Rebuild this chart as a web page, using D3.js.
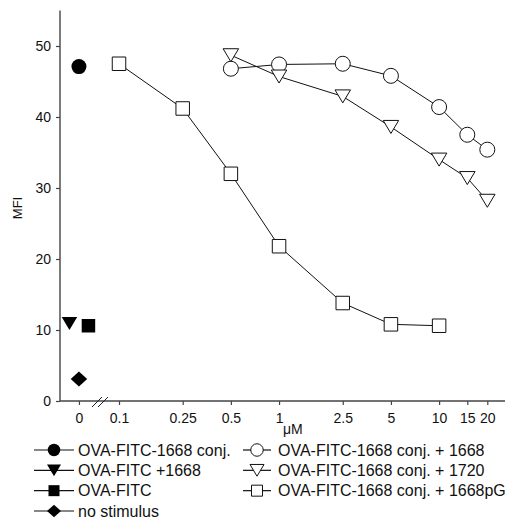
<html>
<head>
<meta charset="utf-8">
<script src="https://d3js.org/d3.v7.min.js"></script>
<style>
  body { margin: 0; background: #fff; }
  text { font-family: "Liberation Sans", Arial, Helvetica, sans-serif; fill: #111; }
</style>
</head>
<body>
<svg id="chart" width="511" height="520"></svg>
<script>

// Values

// log-axis doses (uM) and their tick labels; "0" sits left of the axis break
var ZERO_AT = 0.0562;
var tickDoses = [ZERO_AT, 0.1, 0.25, 0.5, 1, 2.5, 5, 10, 15, 20];
var tickLabels = ["0", "0.1", "0.25", "0.5", "1", "2.5", "5", "10", "15", "20"];
var yTicks = [0, 10, 20, 30, 40, 50];

// dose-response curves
var dosesConj1668 = [0.5, 1, 2.5, 5, 10, 15, 20];
var mfiConj1668 = [46.8, 47.4, 47.5, 45.8, 41.4, 37.5, 35.4];

var dosesConj1720 = [0.5, 1, 2.5, 5, 10, 15, 20];
var mfiConj1720 = [48.7, 45.7, 42.9, 38.6, 34.0, 31.4, 28.2];

var dosesConj1668pG = [0.1, 0.25, 0.5, 1, 2.5, 5, 10];
var mfiConj1668pG = [47.5, 41.2, 32.0, 21.8, 13.8, 10.8, 10.6];

// controls at zero dose
var zeroNames = ["OVA-FITC-1668 conj.", "OVA-FITC +1668", "OVA-FITC", "no stimulus"];
var zeroMfi = [47.1, 10.9, 10.6, 3.1];
var zeroColumn = ["mid", "left", "right", "mid"];
var zeroShape = ["circle", "triDown", "square", "diamond"];

var curveNames = ["OVA-FITC-1668 conj. + 1668", "OVA-FITC-1668 conj. + 1720", "OVA-FITC-1668 conj. + 1668pG"];
var curveShape = ["circle", "triDown", "square"];

// ---------------------------------------------------------------

var svg = d3.select("#chart");
var axisColor = "#444";

var x = d3.scaleLog()
  .domain([0.1, 20])
  .range([119, 487.3]);

var y = d3.scaleLinear()
  .domain([0, 55])
  .range([401, 10.5]);

// small offsets so the zero-dose markers do not overlap
var zeroCol = d3.scalePoint()
  .domain(["left", "mid", "right"])
  .range([x(ZERO_AT) - 9.5, x(ZERO_AT) + 9.5]);

// marker path generators, centred on 0,0
var shapes = {
  circle: function(s) {
    var r = s / 2;
    return "M" + (-r) + ",0A" + r + "," + r + " 0 1,0 " + r + ",0A" + r + "," + r + " 0 1,0 " + (-r) + ",0Z";
  },
  square: function(s) {
    var h = s / 2;
    return "M" + (-h) + "," + (-h) + "H" + h + "V" + h + "H" + (-h) + "Z";
  },
  triDown: function(s) {
    var w = s / 2, h = s * 0.42;
    return "M" + (-w) + "," + (-h) + "H" + w + "L0," + h + "Z";
  },
  diamond: function(s) {
    var w = s / 2, h = s * 0.45;
    return "M" + (-w) + ",0L0," + (-h) + "L" + w + ",0L0," + h + "Z";
  }
};
var chartSize = { circle: 15, square: 13.5, triDown: 15.5, diamond: 16.5 };
var legendSize = { circle: 12.5, square: 11, triDown: 14, diamond: 14 };

// axes
var yAxis = svg.append("g")
  .attr("transform", "translate(60,0)")
  .call(d3.axisLeft(y).tickValues(yTicks).tickSize(4).tickPadding(5).tickSizeOuter(0));
yAxis.select(".domain").attr("d", "M0," + y(0) + "V" + y(55));

var xAxis = svg.append("g")
  .attr("transform", "translate(0," + y(0) + ")")
  .call(d3.axisBottom(x).tickValues(tickDoses)
    .tickFormat(function(d, i) { return tickLabels[i]; })
    .tickSize(4).tickPadding(8).tickSizeOuter(0));
xAxis.select(".domain").attr("d", "M60,0H505");

[yAxis, xAxis].forEach(function(a) {
  a.selectAll(".domain").attr("stroke", axisColor).attr("stroke-width", 1.4);
  a.selectAll(".tick line").attr("stroke", axisColor).attr("stroke-width", 1.2);
  a.selectAll(".tick text").attr("font-size", 14).attr("fill", "#111")
    .attr("font-family", "Liberation Sans, Arial, sans-serif");
});

// axis break
[0, 6].forEach(function(dx) {
  svg.append("line")
    .attr("x1", 92 + dx).attr("y1", y(0) + 6)
    .attr("x2", 102 + dx).attr("y2", y(0) - 4)
    .attr("stroke", "#222").attr("stroke-width", 1);
});

// axis titles
svg.append("text")
  .attr("transform", "translate(22,208) rotate(-90)")
  .attr("text-anchor", "middle")
  .attr("font-size", 13)
  .text("MFI");

svg.append("text")
  .attr("x", 283).attr("y", 434)
  .attr("font-size", 14)
  .text("\u03bcM");

// curves
var curves = [
  { doses: dosesConj1668, mfi: mfiConj1668, shape: curveShape[0] },
  { doses: dosesConj1720, mfi: mfiConj1720, shape: curveShape[1] },
  { doses: dosesConj1668pG, mfi: mfiConj1668pG, shape: curveShape[2] }
];

var line = d3.line()
  .x(function(d) { return x(d[0]); })
  .y(function(d) { return y(d[1]); });

curves.forEach(function(c) {
  var pts = d3.zip(c.doses, c.mfi);
  svg.append("path")
    .attr("d", line(pts))
    .attr("fill", "none")
    .attr("stroke", "#111")
    .attr("stroke-width", 1);
});

curves.forEach(function(c) {
  var pts = d3.zip(c.doses, c.mfi);
  svg.append("g").selectAll("path")
    .data(pts)
    .enter().append("path")
    .attr("d", shapes[c.shape](chartSize[c.shape]))
    .attr("transform", function(d) { return "translate(" + x(d[0]) + "," + y(d[1]) + ")"; })
    .attr("fill", "#fff")
    .attr("stroke", "#111")
    .attr("stroke-width", 1);
});

// zero-dose controls
zeroMfi.forEach(function(v, i) {
  svg.append("path")
    .attr("d", shapes[zeroShape[i]](chartSize[zeroShape[i]]))
    .attr("transform", "translate(" + zeroCol(zeroColumn[i]) + "," + y(v) + ")")
    .attr("fill", "#000");
});

// legend
var rowY = d3.scaleLinear().domain([0, 3]).range([450, 511]);

zeroNames.forEach(function(name, i) {
  var g = svg.append("g").attr("transform", "translate(0," + rowY(i) + ")");
  g.append("line").attr("x1", 34).attr("x2", 74).attr("stroke", "#111").attr("stroke-width", 1.2);
  g.append("path")
    .attr("d", shapes[zeroShape[i]](legendSize[zeroShape[i]]))
    .attr("transform", "translate(54,0)")
    .attr("fill", "#000");
  g.append("text").attr("x", 78).attr("dy", "0.36em").attr("font-size", 16).text(name);
});

curveNames.forEach(function(name, i) {
  var g = svg.append("g").attr("transform", "translate(0," + rowY(i) + ")");
  g.append("line").attr("x1", 243).attr("x2", 271).attr("stroke", "#111").attr("stroke-width", 1.2);
  g.append("path")
    .attr("d", shapes[curveShape[i]](legendSize[curveShape[i]]))
    .attr("transform", "translate(257,0)")
    .attr("fill", "#fff")
    .attr("stroke", "#111")
    .attr("stroke-width", 1);
  g.append("text").attr("x", 278).attr("dy", "0.36em").attr("font-size", 16).text(name);
});

</script>
</body>
</html>
